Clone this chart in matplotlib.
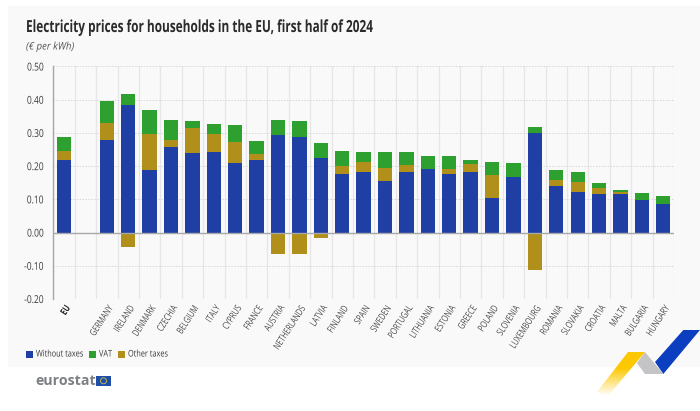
import numpy as np
import matplotlib
matplotlib.use('Agg')
import matplotlib.pyplot as plt
from matplotlib.patches import Polygon, Rectangle
from matplotlib.patheffects import AbstractPathEffect
from matplotlib.transforms import Affine2D

plt.rcParams['font.family'] = ['Open Sans', 'DejaVu Sans']

countries = ['EU', '', 'GERMANY', 'IRELAND', 'DENMARK', 'CZECHIA', 'BELGIUM', 'ITALY', 'CYPRUS',
             'FRANCE', 'AUSTRIA', 'NETHERLANDS', 'LATVIA', 'FINLAND', 'SPAIN', 'SWEDEN', 'PORTUGAL',
             'LITHUANIA', 'ESTONIA', 'GREECE', 'POLAND', 'SLOVENIA', 'LUXEMBOURG', 'ROMANIA',
             'SLOVAKIA', 'CROATIA', 'MALTA', 'BULGARIA', 'HUNGARY']
without_taxes = [.218, 0, .280, .385, .188, .258, .240, .244, .210, .218, .294, .289, .226, .176,
                 .183, .156, .182, .191, .176, .183, .105, .168, .301, .140, .123, .115, .117, .098, .086]
other_taxes = [.029, 0, .051, -.042, .109, .022, .076, .054, .064, .020, -.066, -.066, -.015, .023,
               .030, .039, .022, 0, .014, .022, .067, 0, -.113, .017, .028, .018, .005, 0, 0]
vat = [.042, 0, .064, .032, .073, .058, .019, .029, .050, .039, .046, .047, .044, .048,
       .030, .048, .038, .041, .040, .012, .040, .041, .016, .031, .030, .015, .005, .021, .023]
yticks = [-.2, -.1, 0, .1, .2, .3, .4, .5]
series_names = ['Without taxes', 'VAT', 'Other taxes']
series_colors = ['#1f3fa5', '#2ea02f', '#b08f1b']


# the original font is a condensed one, none is installed so squeeze the glyphs
class Narrow(AbstractPathEffect):
    def __init__(self, sx=0.8, right=False):
        super().__init__()
        self.sx = sx
        self.right = right

    def draw_path(self, renderer, gc, tpath, affine, rgbFace=None):
        x0 = tpath.get_extents().x1 if self.right else 0
        squeeze = Affine2D().translate(-x0, 0).scale(self.sx, 1).translate(x0, 0)
        renderer.draw_path(gc, tpath, squeeze + affine, rgbFace)


W, H = 700, 411
fig = plt.figure(figsize=(W / 100, H / 100), dpi=100, facecolor='white')

# background, logo and ribbon in pixel coords
bg = fig.add_axes([0, 0, 1, 1], zorder=0)
bg.add_patch(Rectangle((8, 6), 692, 360.5, color='#f9f9f9', lw=0))
bg.add_patch(Polygon([(683.3, 330), (700, 330), (663.3, 374), (655, 362)], color='#0b3fc0', lw=0))
bg.add_patch(Polygon([(645, 352), (663.3, 374), (645, 374), (637, 363)], color='#c4c4c6', lw=0))
yellow = np.ones((64, 1, 4))
yellow[..., :3] = matplotlib.colors.to_rgb('#fdc800')
yellow[..., 3] = np.clip(1.6 - np.linspace(0, 1, 64) * 1.6, 0, 1).reshape(-1, 1)
im = bg.imshow(yellow, extent=(595, 647, 396, 352), aspect='auto', zorder=2)
clip = Polygon([(628, 352), (645, 352), (608, 396), (597, 392)], transform=bg.transData, fc='none', lw=0)
bg.add_patch(clip)
im.set_clip_path(clip)
bg.set_xlim(0, W)
bg.set_ylim(H, 0)
bg.axis('off')

bg.text(35.5, 381, 'eurostat', fontsize=10.2, fontweight='bold', color='#7c7f83', va='center', ha='left')
bg.add_patch(Rectangle((96, 375.7), 15, 10.3, color='#1f4ea8', lw=0))
bg.add_patch(plt.Circle((103.5, 380.8), 3, fc='none', ec='#d8c34a', lw=0.6))
bg.text(26, 27, 'Electricity prices for households in the EU, first half of 2024', fontsize=12,
        fontweight='bold', color='#2b2b2b', va='center', ha='left', path_effects=[Narrow(0.71)])
bg.text(26, 47, '(€ per kWh)', fontsize=7.5, style='italic', color='#555555', va='center', ha='left',
        path_effects=[Narrow(0.92)])

# legend squares and labels, squeezed text breaks the spacing of ax.legend
legend_x = [26, 89, 118]
for lx, name, col in zip(legend_x, series_names, series_colors):
    bg.add_patch(Rectangle((lx, 350.5), 7, 7, color=col, lw=0))
    bg.text(lx + 10, 354, name, fontsize=6.6, color='#3a3a3a', va='center', ha='left',
            path_effects=[Narrow(0.8)])

ax = fig.add_axes([53.3 / W, 1 - 299 / H, (674 - 53.3) / W, (299 - 66.5) / H], zorder=1)
ax.patch.set_alpha(0)

without_taxes = np.array(without_taxes)
other_taxes = np.array(other_taxes)
vat = np.array(vat)
x = np.arange(len(countries))
bar_w = 0.67
ax.bar(x, without_taxes, bar_w, color=series_colors[0], zorder=3)
ax.bar(x, vat, bar_w, bottom=without_taxes + np.clip(other_taxes, 0, None), color=series_colors[1], zorder=3)
ax.bar(x, other_taxes, bar_w, bottom=np.where(other_taxes > 0, without_taxes, 0), color=series_colors[2], zorder=3)

ax.set_xlim(-0.5, len(countries) - 0.5)
ax.set_ylim(-.2, .5)
ax.set_yticks(yticks)
ylabels = ax.set_yticklabels([f'{v:.2f}' for v in yticks], fontsize=7.8, color='#3a3a3a')
ax.tick_params(axis='y', length=0, pad=7)
ax.tick_params(axis='x', length=0, pad=3)
ax.set_xticks(x)
xlabels = ax.set_xticklabels(countries, rotation=57, ha='right', va='top', rotation_mode='anchor',
                             fontsize=7, color='#4a4a4a')
xlabels[0].set_fontweight('bold')
xlabels[0].set_color('#222222')
for t in ylabels:
    t.set_path_effects([Narrow(0.78, right=True)])
for t in xlabels:
    t.set_path_effects([Narrow(0.74, right=True)])

for v in np.arange(len(countries) + 1) - 0.5:
    ax.axvline(v, color='#e6e6e6', lw=0.9, zorder=1)
for v in yticks:
    ax.axhline(v, color='#d6d6d6', lw=0.7, ls=(0, (1.5, 1.5)), zorder=1)
ax.axhline(0, color='#a8a8a8', lw=1, zorder=4)
for s in ['top', 'right', 'bottom']:
    ax.spines[s].set_visible(False)
ax.spines['left'].set_color('#a8a8a8')
ax.spines['left'].set_linewidth(1)

fig.savefig('out.png', dpi=100)
